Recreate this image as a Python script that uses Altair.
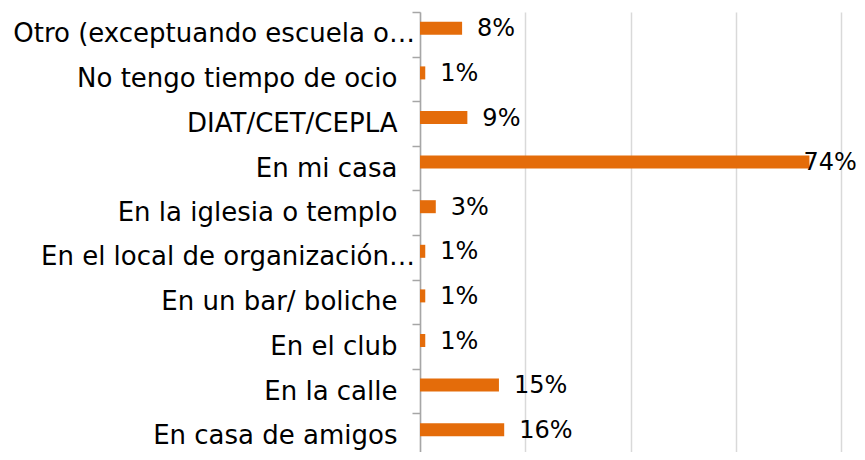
import altair as alt
import pandas as pd

categories = [
    "Otro (exceptuando escuela o…",
    "No tengo tiempo de ocio",
    "DIAT/CET/CEPLA",
    "En mi casa",
    "En la iglesia o templo",
    "En el local de organización…",
    "En un bar/ boliche",
    "En el club",
    "En la calle",
    "En casa de amigos",
]
values = [8, 1, 9, 74, 3, 1, 1, 1, 15, 16]
value_labels = ["8%", "1%", "9%", "74%", "3%", "1%", "1%", "1%", "15%", "16%"]
grid_values = [0, 20, 40, 60, 80]

df = pd.DataFrame({"cat": categories, "value": values, "label": value_labels})

FONT = "DejaVu Sans"
ORANGE = "#E46C0A"
TRUNC = "indexof(datum.cat, '…') > 0"

y_enc = alt.Y(
    "cat:N",
    sort=categories,
    scale=alt.Scale(paddingInner=0, paddingOuter=0),
    axis=alt.Axis(
        title=None,
        tickBand="extent",
        domainColor="#a6a6a6",
        domainWidth=1.5,
        tickColor="#a6a6a6",
        tickWidth=1.5,
        tickSize=8,
        labelFont=FONT,
        labelFontSize=26,
        labelColor="#000000",
        labelPadding=15,
        labelLimit=0,
        labelExpr="indexof(datum.label, '…') > 0 ? '' : datum.label",
        grid=False,
    ),
)
x_enc = alt.X(
    "value:Q",
    scale=alt.Scale(domain=[0, 80], nice=False),
    axis=alt.Axis(
        values=grid_values,
        labels=False,
        ticks=False,
        domain=False,
        title=None,
        grid=True,
        gridColor="#d9d9d9",
        gridWidth=1.5,
    ),
)

base = alt.Chart(df).encode(y=y_enc, x=x_enc)

bars = base.mark_bar(size=13, color=ORANGE, yOffset=-6)

labels_small = base.transform_filter("datum.value < 50").mark_text(
    align="left", baseline="middle", dx=15, yOffset=-5, fontSize=24, font=FONT, color="#000000"
).encode(text="label:N")

labels_big = base.transform_filter("datum.value >= 50").mark_text(
    align="left", baseline="middle", dx=-6, yOffset=-5, fontSize=24, font=FONT, color="#000000"
).encode(text="label:N")

trunc_cats = alt.Chart(df).transform_filter(TRUNC).mark_text(
    align="right", baseline="middle", dx=-5, fontSize=26, font=FONT, color="#000000"
).encode(
    y=alt.Y("cat:N", sort=categories),
    x=alt.value(0),
    text="cat:N",
)

chart = (
    alt.layer(bars, labels_small, labels_big, trunc_cats)
    .properties(
        width=421,
        height=446,
        autosize=alt.AutoSizeParams(type="none"),
        padding={"left": 412, "top": 4, "right": 16, "bottom": -6},
    )
    .configure_view(stroke=None)
)

chart.save("out.html", embed_options={"renderer": "svg", "actions": False})
